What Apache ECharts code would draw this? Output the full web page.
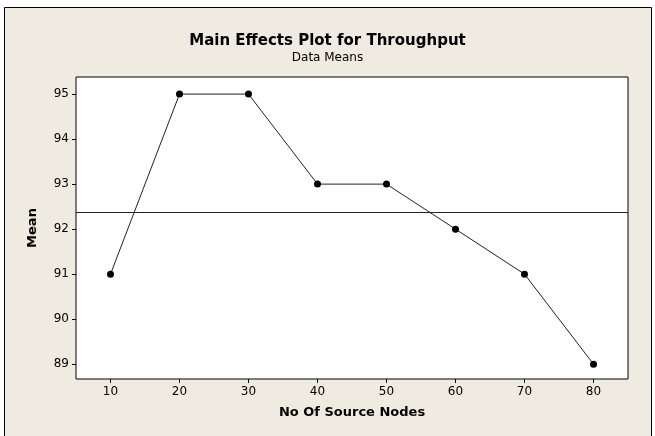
<!DOCTYPE html>
<html>
<head>
<meta charset="utf-8">
<script src="https://cdn.jsdelivr.net/npm/echarts@6/dist/echarts.min.js"></script>
<style>
  html, body { margin: 0; padding: 0; background: #fff; }
  #main { width: 655px; height: 436px; }
</style>
</head>
<body>
<div id="main"></div>
<script>
// main effects data
var sourceNodes = [10, 20, 30, 40, 50, 60, 70, 80];
var meanThroughput = [91, 95, 95, 93, 93, 92, 91, 89];
var grandMean = 92.375;
var xTicks = [10, 20, 30, 40, 50, 60, 70, 80];
var yTicks = [89, 90, 91, 92, 93, 94, 95];

var chart = echarts.init(document.getElementById('main'), null, { renderer: 'canvas' });

var font = 'DejaVu Sans';

var option = {
  backgroundColor: '#ffffff',
  animation: false,
  graphic: [{
    type: 'rect',
    z: -10,
    shape: { x: 4.5, y: 7.5, width: 647, height: 440 },
    style: { fill: '#efebe0', stroke: '#000', lineWidth: 1 }
  }],
  title: {
    text: 'Main Effects Plot for Throughput',
    subtext: 'Data Means',
    left: 'center',
    top: 29,
    itemGap: 3,
    textStyle: { fontFamily: font, fontSize: 15, fontWeight: 'bold', color: '#000' },
    subtextStyle: { fontFamily: font, fontSize: 12, color: '#000' }
  },
  grid: {
    left: 76, top: 77, right: 27, bottom: 57,
    show: true,
    backgroundColor: '#fff',
    borderColor: '#000',
    borderWidth: 1
  },
  xAxis: {
    type: 'value',
    min: 5,
    max: 85,
    name: 'No Of Source Nodes',
    nameLocation: 'middle',
    nameGap: 27,
    nameTextStyle: { fontFamily: font, fontSize: 13, fontWeight: 'bold', color: '#000' },
    axisLine: { show: false },
    axisTick: { show: true, length: 4, customValues: xTicks, lineStyle: { color: '#000' } },
    axisLabel: { customValues: xTicks, fontFamily: font, fontSize: 12, color: '#000', margin: 7 },
    splitLine: { show: false }
  },
  yAxis: {
    type: 'value',
    min: 88.67,
    max: 95.38,
    name: 'Mean',
    nameLocation: 'middle',
    nameGap: 37,
    nameRotate: 90,
    nameTextStyle: { fontFamily: font, fontSize: 13, fontWeight: 'bold', color: '#000' },
    axisLine: { show: false },
    axisTick: { show: true, length: 4, customValues: yTicks, lineStyle: { color: '#000' } },
    axisLabel: { customValues: yTicks, fontFamily: font, fontSize: 12, color: '#000', margin: 7 },
    splitLine: { show: false }
  },
  series: [{
    type: 'line',
    data: sourceNodes.map(function (x, i) { return [x, meanThroughput[i]]; }),
    symbol: 'circle',
    symbolSize: 7,
    lineStyle: { color: '#222', width: 1 },
    itemStyle: { color: '#000' },
    markLine: {
      silent: true,
      symbol: 'none',
      label: { show: false },
      lineStyle: { color: '#222', width: 1, type: 'solid' },
      data: [{ yAxis: grandMean }]
    }
  }]
};

chart.setOption(option);
</script>
</body>
</html>
